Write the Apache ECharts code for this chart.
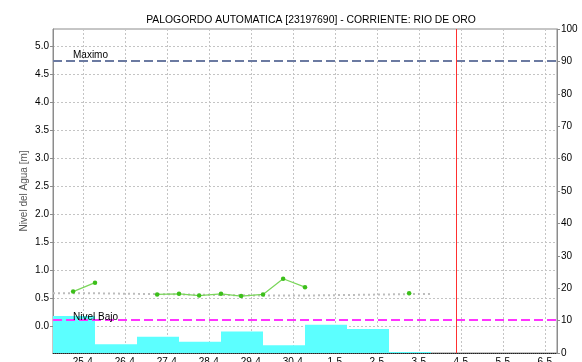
<!DOCTYPE html>
<html>
<head>
<meta charset="utf-8">
<script src="https://cdn.jsdelivr.net/npm/echarts@6/dist/echarts.min.js"></script>
<style>
  html, body { margin: 0; padding: 0; background: #fff; }
  #chart { width: 582px; height: 362px; }
</style>
</head>
<body>
<div id="chart"></div>
<script>
// Daily rainfall (mm), each bar covers 07:00 -> 07:00 of the next day
const rainStart = ['2025-04-24 07:00', '2025-04-25 07:00', '2025-04-26 07:00', '2025-04-27 07:00',
  '2025-04-28 07:00', '2025-04-29 07:00', '2025-04-30 07:00', '2025-05-01 07:00', '2025-05-02 07:00'];
const rainMm = [11.4, 2.7, 5.0, 3.5, 6.6, 2.4, 8.7, 7.4, 0.3];

// Water level readings (m); null marks a missing reading
const levelTimes = ['2025-04-24 18:30', '2025-04-25 07:00', '2025-04-25 18:30', '2025-04-26 07:00',
  '2025-04-26 18:30', '2025-04-27 07:00', '2025-04-27 18:30', '2025-04-28 07:00',
  '2025-04-28 18:30', '2025-04-29 07:00', '2025-04-29 18:30', '2025-04-30 07:00',
  '2025-04-30 18:30', '2025-05-01 07:00', '2025-05-01 18:30', '2025-05-02 07:00',
  '2025-05-02 18:30'];
const levelM = [0.62, 0.78, null, null, 0.57, 0.58, 0.55, 0.58, 0.54, 0.57, 0.85, 0.70,
  null, null, null, null, 0.59];

// Reference level (m), dotted trace
const refTimes = ['2025-04-24 07:00', '2025-04-25 07:00', '2025-04-26 07:00', '2025-04-27 07:00',
  '2025-04-28 07:00', '2025-04-29 07:00', '2025-04-30 07:00', '2025-05-01 07:00',
  '2025-05-02 07:00', '2025-05-03 07:00'];
const refM = [0.59, 0.59, 0.58, 0.57, 0.56, 0.55, 0.55, 0.56, 0.57, 0.58];

// Thresholds and current time
const nivelMaximo = 4.73;
const nivelBajo = 0.107;
const ahora = '2025-05-03 21:40';

// Axis ticks
const levelTicks = [0.0, 0.5, 1.0, 1.5, 2.0, 2.5, 3.0, 3.5, 4.0, 4.5, 5.0];
const rainTicks = [0, 10, 20, 30, 40, 50, 60, 70, 80, 90, 100];

const xMin = '2025-04-24 07:00';
const xMax = '2025-05-06 07:00';
const DAY = 86400000;

const parse = s => echarts.time.parse(s).getTime();

const rainData = rainStart.map((s, i) => {
  const t0 = parse(s);
  return [t0, t0 + DAY, rainMm[i]];
});
const levelData = levelTimes.map((t, i) => [parse(t), levelM[i] === null ? '-' : levelM[i]]);
const refData = refTimes.map((t, i) => [parse(t), refM[i]]);

const font = 'Liberation Sans, Arial, sans-serif';
const chart = echarts.init(document.getElementById('chart'), null, { renderer: 'canvas' });

// Day labels as "d-m", only at midnight
const dayLabel = v => {
  const d = new Date(v);
  if (d.getHours() !== 0 || d.getMinutes() !== 0) return '';
  return d.getDate() + '-' + (d.getMonth() + 1);
};

chart.setOption({
  animation: false,
  backgroundColor: '#fff',
  title: {
    text: 'PALOGORDO AUTOMATICA [23197690] - CORRIENTE: RIO DE ORO',
    left: 306, top: 10, textAlign: 'center',
    textStyle: { fontFamily: font, fontSize: 10.4, fontWeight: 'normal', color: '#000' }
  },
  grid: {
    left: 53, right: 25, top: 29, bottom: 9,
    outerBoundsMode: 'none',
    show: true, borderColor: '#8c8c8c', borderWidth: 1
  },
  xAxis: {
    type: 'time',
    min: parse(xMin), max: parse(xMax),
    minInterval: DAY, maxInterval: DAY,
    axisLine: { onZero: false, lineStyle: { color: '#222', width: 1, type: [1, 1] } },
    axisTick: { show: false },
    axisLabel: {
      margin: 4, hideOverlap: false,
      fontFamily: font, fontSize: 10, color: '#000', fontWeight: 'normal',
      formatter: dayLabel,
      rich: {}
    },
    splitLine: { show: true, lineStyle: { color: '#c4c4c4', width: 1, type: [2, 2] } }
  },
  yAxis: [{
    type: 'value',
    min: -0.475, max: 5.305,
    name: 'Nivel del Agua [m]',
    nameLocation: 'middle', nameGap: 24, nameMoveOverlap: false,
    nameTextStyle: { fontFamily: font, fontSize: 10, color: '#555' },
    axisLine: { show: true, lineStyle: { color: '#8c8c8c' } },
    axisTick: { show: true, length: 3, lineStyle: { color: '#8c8c8c' }, customValues: levelTicks },
    axisLabel: {
      customValues: levelTicks, margin: 4,
      fontFamily: font, fontSize: 10, color: '#000',
      formatter: v => v.toFixed(1)
    },
    splitLine: { show: true, lineStyle: { color: '#c4c4c4', width: 1, type: [2, 2] } }
  }, {
    type: 'value',
    position: 'right',
    min: rainTicks[0], max: rainTicks[rainTicks.length - 1], interval: rainTicks[1] - rainTicks[0],
    axisLine: { show: true, lineStyle: { color: '#8c8c8c' } },
    axisTick: { show: true, length: 3, lineStyle: { color: '#8c8c8c' } },
    axisLabel: { margin: 4, fontFamily: font, fontSize: 10, color: '#000' },
    splitLine: { show: false }
  }],
  series: [{
    name: 'Precipitación',
    type: 'custom',
    xAxisIndex: 0, yAxisIndex: 1,
    encode: { x: [0, 1], y: 2 },
    data: rainData,
    renderItem: (params, api) => {
      const top = api.coord([api.value(0), api.value(2)]);
      const bottom = api.coord([api.value(1), 0]);
      return {
        type: 'rect',
        shape: { x: top[0], y: top[1], width: bottom[0] - top[0], height: bottom[1] - top[1] },
        style: { fill: '#5cffff' }
      };
    },
    z: 1
  }, {
    name: 'Referencia',
    type: 'line',
    data: refData,
    showSymbol: false,
    lineStyle: { color: '#bdbdbd', width: 2, type: [2, 3] },
    z: 2
  }, {
    name: 'Nivel',
    type: 'line',
    data: levelData,
    connectNulls: false,
    symbol: 'circle', symbolSize: 4.5,
    itemStyle: { color: '#3cbf1a' },
    lineStyle: { color: '#7ad65a', width: 1.2 },
    z: 3,
    markLine: {
      silent: true,
      symbol: 'none',
      data: [
        { yAxis: nivelMaximo, lineStyle: { color: '#6b7aa1', width: 2, type: [9, 4] },
          label: { formatter: 'Maximo', position: 'insideStartTop', distance: [20, 1] } },
        { yAxis: nivelBajo, lineStyle: { color: '#ff33ff', width: 2, type: [9, 4] },
          label: { formatter: 'Nivel Bajo', position: 'insideStartTop', distance: [20, -2] } },
        { xAxis: parse(ahora), lineStyle: { color: '#ff3030', width: 1, type: 'solid' },
          label: { show: false } }
      ],
      label: { fontFamily: font, fontSize: 10, color: '#000' }
    }
  }]
});
</script>
</body>
</html>
